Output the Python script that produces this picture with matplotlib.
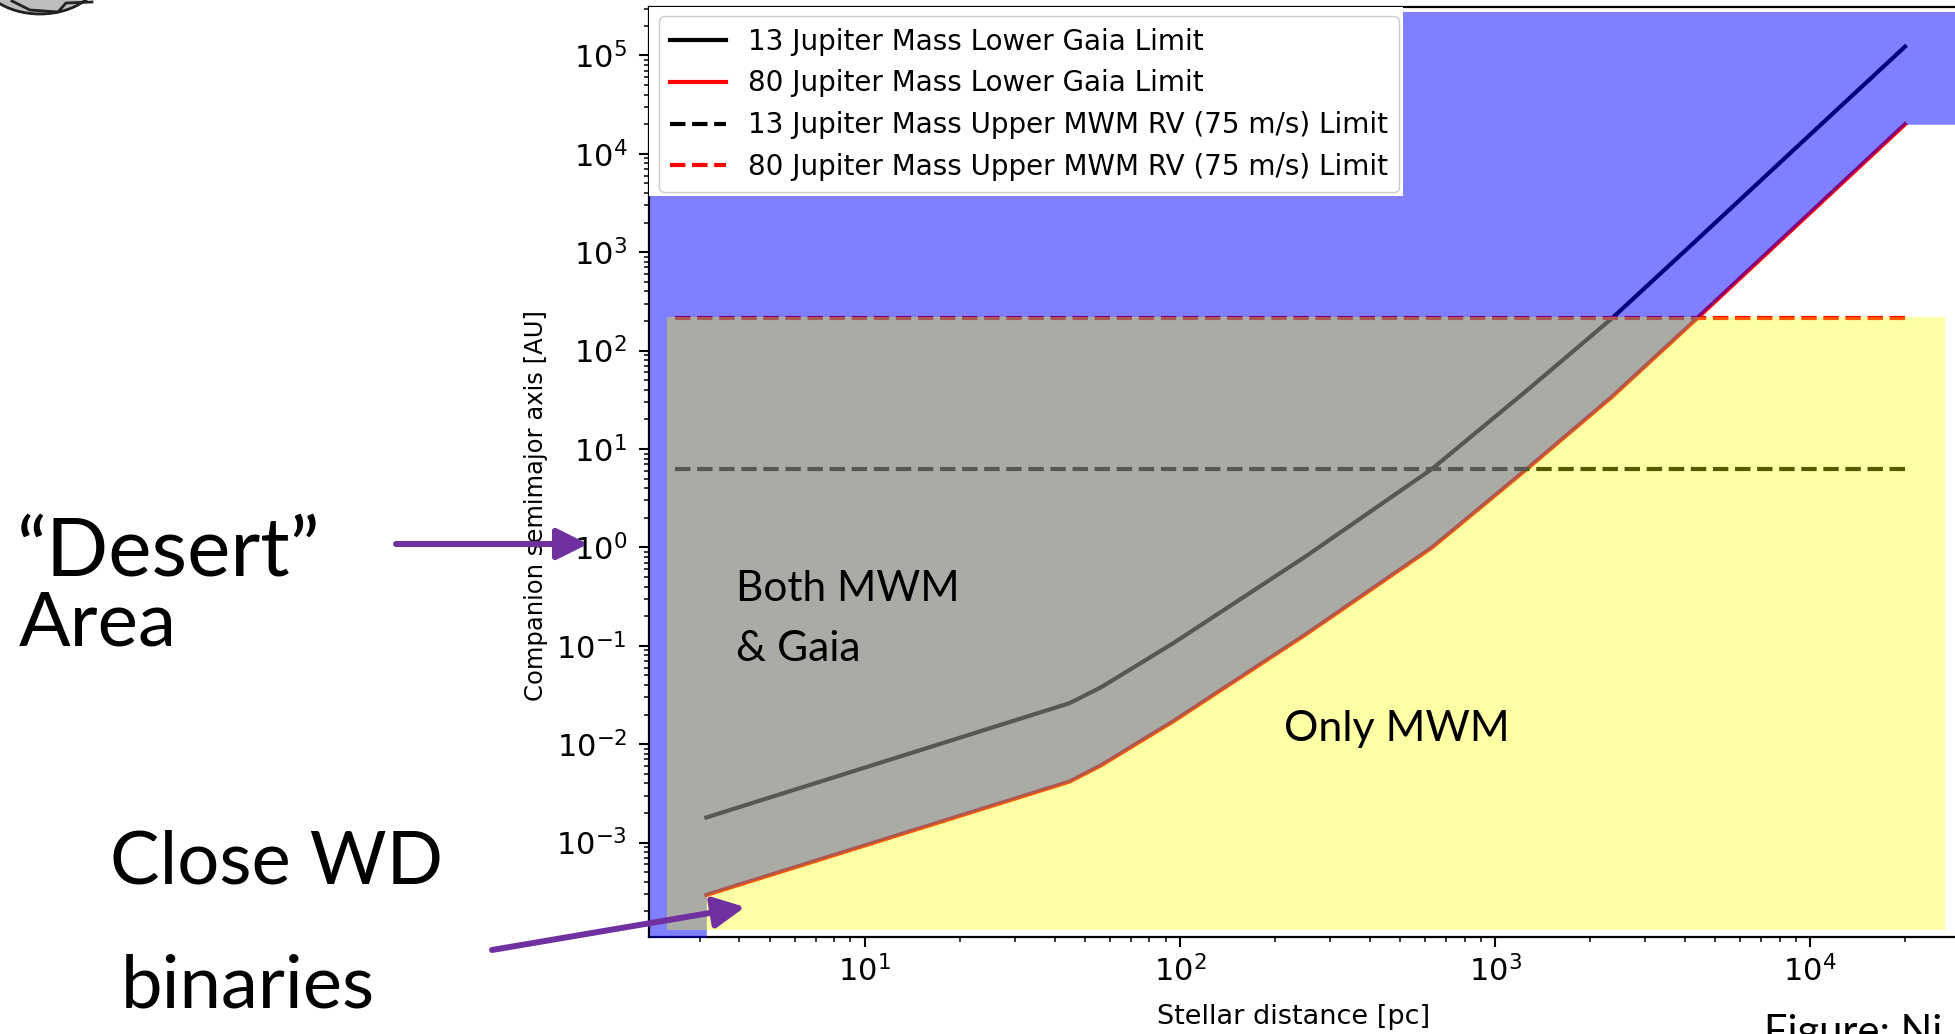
import numpy as np
import matplotlib
matplotlib.use("Agg")
import matplotlib.pyplot as plt
from matplotlib.patches import Rectangle, Ellipse, FancyArrowPatch, ArrowStyle
from matplotlib.transforms import IdentityTransform

W, H = 1955, 1034          # dimensione finale in pixel
PURPLE = '#7030A0'

# --- Dati ---
dist_pc = [3.14, 44.6, 56.2, 95.5, 251, 631, 1262, 2350, 4375, 10000, 20000]
a_13mj_gaia = [1.80e-3, 0.0261, 0.0379, 0.107, 0.813, 6.28, 39.4, 213, 1340, 15700, 1.23e5]
a_80mj_gaia = [2.94e-4, 4.17e-3, 6.11e-3, 0.0172, 0.131, 1.0, 6.28, 34.0, 213, 2520, 2.0e4]
rv_dist_pc = [2.5, 20000]
a_13mj_rv = 6.3
a_80mj_rv = 213

x_lim = (2.07, 31000)
y_lim = (1.09e-4, 3.13e5)
gaia_top = 2.8e5
mwm_x = (2.36, 26800)
mwm_y = (1.3e-4, 220)

labels = ['13 Jupiter Mass Lower Gaia Limit',
          '80 Jupiter Mass Lower Gaia Limit',
          '13 Jupiter Mass Upper MWM RV (75 m/s) Limit',
          '80 Jupiter Mass Upper MWM RV (75 m/s) Limit']

FS = 19.5
LW = 3.0

fig = plt.figure(figsize=(W / 100, H / 100), dpi=100)
ax = fig.add_axes([649.3 / W, (H - 937.3) / H, (1965 - 649.3) / W, (937.3 - 6.7) / H])

# --- Curve ---
ax.plot(dist_pc, a_13mj_gaia, color='black', lw=LW, label=labels[0], zorder=2)
ax.plot(dist_pc, a_80mj_gaia, color='red', lw=LW, label=labels[1], zorder=2)
ax.plot(rv_dist_pc, [a_13mj_rv] * 2, color='black', ls='--', lw=LW, label=labels[2], zorder=2)
ax.plot(rv_dist_pc, [a_80mj_rv] * 2, color='red', ls='--', lw=LW, label=labels[3], zorder=2)

# Regione Gaia (blu) sopra la curva 80 MJ
xb = np.concatenate([[x_lim[0], dist_pc[0]], dist_pc, [x_lim[1]]])
lb = np.concatenate([[y_lim[0], y_lim[0]], a_80mj_gaia, [a_80mj_gaia[-1]]])
ax.fill_between(xb, lb, gaia_top, color='blue', alpha=0.5, lw=0, zorder=3)

# Regione MWM (giallo), sovrapposta al blu diventa grigia
ax.fill_between(mwm_x, mwm_y[0], mwm_y[1], color='yellow', alpha=0.35, lw=0, zorder=4)

ax.set_xscale('log')
ax.set_yscale('log')
ax.set_xlim(x_lim)
ax.set_ylim(y_lim)
ax.yaxis.set_major_locator(matplotlib.ticker.LogLocator(base=10, numticks=20))
ax.yaxis.set_minor_locator(matplotlib.ticker.LogLocator(base=10, subs=np.arange(2, 10), numticks=20))
ax.yaxis.set_minor_formatter(matplotlib.ticker.NullFormatter())

ax.tick_params(which='major', length=7, width=1.5, labelsize=22)
ax.tick_params(axis='x', which='major', pad=6)
ax.tick_params(axis='y', which='major', pad=9)
ax.tick_params(which='minor', length=3.9, width=1.1)
for s in ax.spines.values():
    s.set_linewidth(1.6)

ax.set_xlabel('Stellar distance [pc]', fontsize=FS)
ax.set_ylabel('Companion semimajor axis [AU]', fontsize=17.5)
ax.xaxis.set_label_coords(0.49, -0.072)
ax.yaxis.set_label_coords(-0.077, 0.4645)

leg = ax.legend(loc='upper left', fontsize=20, framealpha=1, borderaxespad=0.35,
                handlelength=2.0)
leg.set_zorder(6)

# rettangolo bianco dietro la legenda
fig.canvas.draw()
bb = leg.get_window_extent().transformed(ax.transAxes.inverted())
ax.add_patch(Rectangle((0, bb.y0 - 0.004), bb.x1 + 0.003, 1 - bb.y0 + 0.004,
                       transform=ax.transAxes, facecolor='white', edgecolor='none', zorder=5))


def fx(x):
    return x / W


def fy(y):
    return 1 - y / H


# --- Testi della slide ---
slide_font = 'Lato'
fig.text(fx(17), fy(576), '\u201cDesert\u201d', fontsize=59, family=slide_font, va='baseline')
fig.text(fx(19), fy(646), 'Area', fontsize=55, family=slide_font, va='baseline')
fig.text(fx(110), fy(883), 'Close WD', fontsize=53.5, family=slide_font, va='baseline')
fig.text(fx(121), fy(1007), 'binaries', fontsize=53.5, family=slide_font, va='baseline')
fig.text(fx(736), fy(601), 'Both MWM', fontsize=30.5, family=slide_font, va='baseline')
fig.text(fx(736), fy(661), '& Gaia', fontsize=30.5, family=slide_font, va='baseline')
fig.text(fx(1284), fy(741), 'Only MWM', fontsize=31, family=slide_font, va='baseline')
fig.text(fx(1764), fy(1045), 'Figure: Ni', fontsize=30, family=slide_font, va='baseline')

# --- Frecce ---
style = ArrowStyle('-|>', head_length=19, head_width=9.5)
for p0, p1 in [((396, 544), (588, 544)), ((492, 950), (745, 907))]:
    fig.add_artist(FancyArrowPatch((fx(p0[0]), fy(p0[1])), (fx(p1[0]), fy(p1[1])),
                                   transform=fig.transFigure, arrowstyle=style,
                                   mutation_scale=1, color=PURPLE, lw=4.3,
                                   shrinkA=0, shrinkB=0, zorder=5))

# icona grigia in alto a sinistra (tagliata)
fig.add_artist(Ellipse((40, H + 30), 125, 88, transform=IdentityTransform(),
                       facecolor='#BDBDBD', edgecolor='#222222', lw=2, zorder=4))
fig.add_artist(plt.Line2D([12, 30, 58, 66, 92], [H - 1, H - 10, H - 12, H - 3, H - 2],
                          transform=IdentityTransform(), color='#222222', lw=2, zorder=5))

fig.savefig('out.png', dpi=100)
